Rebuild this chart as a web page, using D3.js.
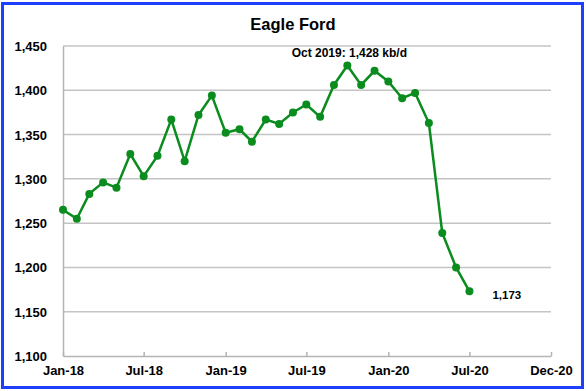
<!DOCTYPE html>
<html>
<head>
<meta charset="utf-8">
<script src="https://cdn.jsdelivr.net/npm/d3@7"></script>
<style>
  body { margin: 0; background: #fff; }
  text { font-family: "Liberation Sans", Arial, sans-serif; font-weight: bold; fill: #000; }
</style>
</head>
<body>
<div id="chart"></div>
<script>
// Eagle Ford monthly production, kb/d
const months = [
  '2018-01', '2018-02', '2018-03', '2018-04', '2018-05', '2018-06',
  '2018-07', '2018-08', '2018-09', '2018-10', '2018-11', '2018-12',
  '2019-01', '2019-02', '2019-03', '2019-04', '2019-05', '2019-06',
  '2019-07', '2019-08', '2019-09', '2019-10', '2019-11', '2019-12',
  '2020-01', '2020-02', '2020-03', '2020-04', '2020-05', '2020-06', '2020-07'
];
const production = [
  1265, 1255, 1283, 1296, 1290, 1328,
  1303, 1326, 1367, 1320, 1372, 1394,
  1352, 1356, 1342, 1367, 1362, 1375,
  1384, 1370, 1406, 1428, 1406, 1422,
  1410, 1391, 1397, 1363, 1239, 1200, 1173
];
const xTicks = ['2018-01-01', '2018-07-01', '2019-01-01', '2019-07-01', '2020-01-01', '2020-07-01', '2020-12-31'];
const yTicks = [1100, 1150, 1200, 1250, 1300, 1350, 1400, 1450];

const width = 586, height = 391;
const margin = { top: 46, right: 35, bottom: 35, left: 63 };
const green = '#0a8c1e';

const parseMonth = d3.timeParse('%Y-%m');
const parseDay = d3.timeParse('%Y-%m-%d');
const data = months.map((m, i) => ({ date: parseMonth(m), value: production[i] }));

const svg = d3.select('#chart').append('svg')
  .attr('width', width)
  .attr('height', height);

// outer frame
svg.append('rect')
  .attr('x', 2.5).attr('y', 3.5)
  .attr('width', 580).attr('height', 384)
  .attr('fill', '#fff')
  .attr('stroke', '#1f3fff')
  .attr('stroke-width', 3);

const x = d3.scaleTime()
  .domain([parseDay('2018-01-01'), parseDay('2020-12-31')])
  .range([margin.left, width - margin.right]);

const y = d3.scaleLinear()
  .domain([1100, 1450])
  .range([height - margin.bottom, margin.top]);

// horizontal gridlines
svg.append('g')
  .selectAll('line')
  .data(yTicks.slice(1))
  .enter().append('line')
  .attr('x1', margin.left).attr('x2', width - margin.right)
  .attr('y1', d => y(d)).attr('y2', d => y(d))
  .attr('stroke', '#c4c4c4')
  .attr('stroke-width', 1.5);

// y axis
const yAxis = svg.append('g')
  .attr('transform', `translate(${margin.left},0)`)
  .call(d3.axisLeft(y).tickValues(yTicks).tickFormat(d3.format(',')).tickSize(0).tickPadding(16));
yAxis.select('.domain').attr('stroke', '#b4b4b4').attr('stroke-width', 1.5);
yAxis.selectAll('text').attr('font-size', 13).attr('dy', '0.35em');

// x axis
const xAxis = svg.append('g')
  .attr('transform', `translate(0,${height - margin.bottom})`)
  .call(d3.axisBottom(x).tickValues(xTicks.map(parseDay)).tickFormat(d3.timeFormat('%b-%y')).tickSizeInner(-4).tickSizeOuter(0).tickPadding(10));
xAxis.select('.domain').attr('stroke', '#b4b4b4').attr('stroke-width', 1.5);
xAxis.selectAll('.tick line').attr('stroke', '#b4b4b4').attr('stroke-width', 1.5);
xAxis.selectAll('text').attr('font-size', 13);

// line + markers
const line = d3.line()
  .x(d => x(d.date))
  .y(d => y(d.value));

svg.append('path')
  .datum(data)
  .attr('fill', 'none')
  .attr('stroke', green)
  .attr('stroke-width', 2.5)
  .attr('d', line);

svg.append('g')
  .selectAll('circle')
  .data(data)
  .enter().append('circle')
  .attr('cx', d => x(d.date))
  .attr('cy', d => y(d.value))
  .attr('r', 4)
  .attr('fill', green);

// title
svg.append('text')
  .attr('x', 293).attr('y', 30)
  .attr('text-anchor', 'middle')
  .attr('font-size', 16.5)
  .text('Eagle Ford');

// annotations
const peak = data[d3.maxIndex(data, d => d.value)];
svg.append('text')
  .attr('x', x(peak.date) + 2).attr('y', y(peak.value) - 8)
  .attr('text-anchor', 'middle')
  .attr('font-size', 12)
  .text(`Oct 2019: ${d3.format(',')(peak.value)} kb/d`);

const last = data[data.length - 1];
svg.append('text')
  .attr('x', x(last.date) + 23).attr('y', y(last.value) + 4)
  .attr('dy', '0.35em')
  .attr('font-size', 11.5)
  .text(d3.format(',')(last.value));
</script>
</body>
</html>
